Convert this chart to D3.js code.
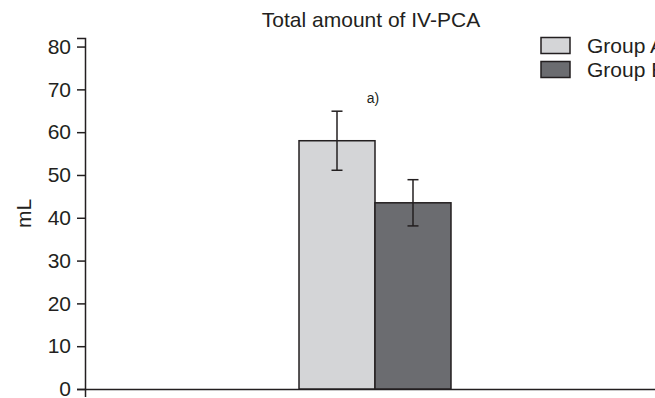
<!DOCTYPE html>
<html>
<head>
<meta charset="utf-8">
<script src="https://cdn.jsdelivr.net/npm/d3@7"></script>
<style>
  body { margin: 0; background: #fff; }
  text { font-family: "Liberation Sans", Arial, sans-serif; fill: #231f20; }
</style>
</head>
<body>
<div id="chart"></div>
<script>
// data
const categories = ["IV-PCA"];
const groups = ["Group A", "Group B"];
const means = [58, 43.5];
const errors = [6.9, 5.4];
const yTicks = [0, 10, 20, 30, 40, 50, 60, 70, 80];
const colors = ["#d4d5d7", "#6b6c70"];

let width = 655, height = 398;
let ink = "#231f20";

let svg = d3.select("#chart")
    .append("svg")
    .attr("width", width)
    .attr("height", height);

// y scale: axis goes a bit past 80
let y = d3.scaleLinear()
    .domain([0, 82])
    .range([389, 38]);

// one category, the axis runs off the right edge
let x0 = d3.scaleBand()
    .domain(categories)
    .range([85, 665])
    .paddingInner(0)
    .paddingOuter(1.408);

let x1 = d3.scaleBand()
    .domain(groups)
    .range([0, x0.bandwidth()]);

// y axis
let yAxis = svg.append("g")
    .attr("transform", "translate(85,0)")
    .call(d3.axisLeft(y).tickValues(yTicks).tickSize(8).tickPadding(6));
yAxis.selectAll("text").style("font-size", "21px").attr("fill", ink);
yAxis.selectAll("line, path").attr("stroke", ink).attr("stroke-width", 1.5);

// x axis, no labels
let xAxis = svg.append("g")
    .attr("transform", "translate(0,389)")
    .call(d3.axisBottom(x0).tickValues([]).tickSizeOuter(8));
xAxis.selectAll("path").attr("stroke", ink).attr("stroke-width", 1.5);

// bars
let data = groups.map((g, i) => ({group: g, mean: means[i], err: errors[i], color: colors[i]}));

let barG = svg.append("g")
    .attr("transform", `translate(${x0(categories[0])},0)`);

barG.selectAll("rect")
    .data(data)
    .enter()
    .append("rect")
    .attr("x", d => x1(d.group))
    .attr("y", d => y(d.mean))
    .attr("width", x1.bandwidth())
    .attr("height", d => y(0) - y(d.mean))
    .attr("fill", d => d.color)
    .attr("stroke", ink)
    .attr("stroke-width", 1.5);

// error bars
let capW = 11;
let errG = barG.selectAll(".err")
    .data(data)
    .enter()
    .append("g")
    .attr("class", "err")
    .attr("stroke", ink)
    .attr("stroke-width", 1.5);

errG.append("line")
    .attr("x1", d => x1(d.group) + x1.bandwidth() / 2)
    .attr("x2", d => x1(d.group) + x1.bandwidth() / 2)
    .attr("y1", d => y(d.mean + d.err))
    .attr("y2", d => y(d.mean - d.err));
errG.append("line")
    .attr("x1", d => x1(d.group) + x1.bandwidth() / 2 - capW / 2)
    .attr("x2", d => x1(d.group) + x1.bandwidth() / 2 + capW / 2)
    .attr("y1", d => y(d.mean + d.err))
    .attr("y2", d => y(d.mean + d.err));
errG.append("line")
    .attr("x1", d => x1(d.group) + x1.bandwidth() / 2 - capW / 2)
    .attr("x2", d => x1(d.group) + x1.bandwidth() / 2 + capW / 2)
    .attr("y1", d => y(d.mean - d.err))
    .attr("y2", d => y(d.mean - d.err));

// significance mark
svg.append("text")
    .attr("x", x0(categories[0]) + x0.bandwidth() / 2 - 2)
    .attr("y", 103)
    .style("text-anchor", "middle")
    .style("font-size", "14px")
    .text("a)");

// title
svg.append("text")
    .attr("x", 371)
    .attr("y", 27)
    .style("text-anchor", "middle")
    .style("font-size", "21px")
    .text("Total amount of IV-PCA");

// y label
svg.append("text")
    .attr("transform", `translate(31, ${(y(0) + y(82)) / 2}) rotate(-90)`)
    .style("text-anchor", "middle")
    .style("font-size", "21px")
    .text("mL");

// legend
let legend = svg.selectAll(".legend")
    .data(data)
    .enter()
    .append("g")
    .attr("class", "legend")
    .attr("transform", (d, i) => `translate(541, ${37.5 + i * 24})`);

legend.append("rect")
    .attr("width", 29)
    .attr("height", 16)
    .attr("fill", d => d.color)
    .attr("stroke", ink)
    .attr("stroke-width", 1.5);

legend.append("text")
    .attr("x", 46)
    .attr("y", 15.5)
    .style("font-size", "21px")
    .text(d => d.group);
</script>
</body>
</html>
